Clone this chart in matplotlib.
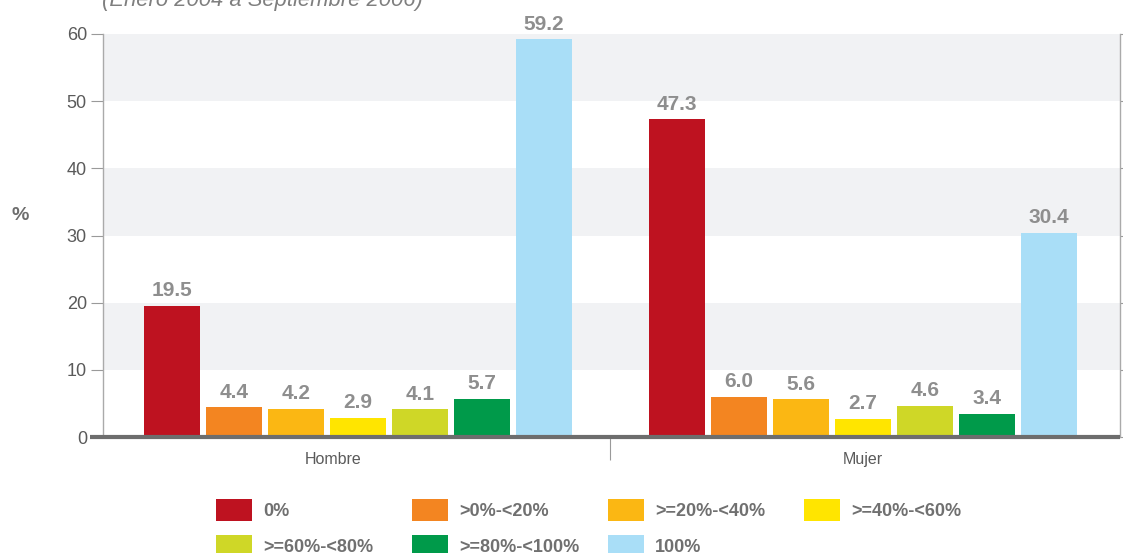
import matplotlib
matplotlib.use('Agg')
import matplotlib.pyplot as plt
from matplotlib.patches import Rectangle
from matplotlib.lines import Line2D

categories = ['Hombre', 'Mujer']
series_labels = ['0%', '>0%-<20%', '>=20%-<40%', '>=40%-<60%',
                 '>=60%-<80%', '>=80%-<100%', '100%']
hombre = [19.5, 4.4, 4.2, 2.9, 4.1, 5.7, 59.2]
mujer = [47.3, 6.0, 5.6, 2.7, 4.6, 3.4, 30.4]
colors = ['#be1220', '#f38521', '#fbb713', '#ffe500', '#cfd727', '#009a4a', '#a9def7']
yticks = [0, 10, 20, 30, 40, 50, 60]
subtitle = '(Enero 2004 a Septiembre 2006)'
ylabel = '%'

plt.rcParams['font.family'] = ['Liberation Sans', 'DejaVu Sans']

W, H = 1123, 553
fig = plt.figure(figsize=(W / 100, H / 100), dpi=100)
ax = fig.add_axes([103 / W, 1 - 437 / H, 1017 / W, 403 / H])

# background bands
for lo in (10, 30, 50):
    ax.axhspan(lo, lo + 10, color='#f1f2f4', zorder=0, lw=0)

step = 0.1228
width = 0.111
xs = list(range(len(categories)))
n = len(series_labels)
for j in range(n):
    vals = [hombre[j], mujer[j]]
    pos = [x + (j - (n - 1) / 2) * step for x in xs]
    ax.bar(pos, vals, width=width, color=colors[j], zorder=2, lw=0)
    for p, v in zip(pos, vals):
        ax.annotate(f'{v:.1f}', (p, v), xytext=(0, 7), textcoords='offset points',
                    ha='center', va='baseline', fontsize=15, fontweight='bold',
                    color='#8e8e8e')

ax.set_xlim(-0.505, 1.509)
ax.set_ylim(0, 60)
ax.set_yticks(yticks)
ax.tick_params(axis='y', which='both', left=True, right=True, direction='out',
               length=8.6, width=0.8, color='#9a9a9a', labelsize=13,
               labelcolor='#5a5a5a', pad=3)
ax.tick_params(axis='y', which='major', right=True, labelright=False)
for t in ax.yaxis.get_ticklines()[1::2]:
    t.set_markersize(2)

ax.set_xticks([0.5])
ax.set_xticklabels([''])
ax.tick_params(axis='x', length=16.5, width=0.8, color='#9a9a9a', direction='out')

for x, lab in zip(xs, categories):
    dx = -0.05 if x == 0 else 0.0
    ax.text(x + dx, -3.4, lab, ha='center', va='center', fontsize=11.5,
            color='#5a5a5a', transform=ax.transData, clip_on=False)

for s in ('top', 'bottom'):
    ax.spines[s].set_visible(False)
ax.spines['left'].set_color('#aaaaaa')
ax.spines['right'].set_color('#aaaaaa')
ax.spines['left'].set_linewidth(1.0)
ax.spines['right'].set_linewidth(1.0)

# thick baseline
ax.add_line(Line2D([-13 / 1017, 1.0], [0, 0], transform=ax.get_yaxis_transform(),
                   color='#6d6d6d', lw=3, clip_on=False, zorder=5,
                   solid_capstyle='butt'))

# y label
fig.text(20 / W, 1 - 215 / H, ylabel, ha='center', va='center', fontsize=14,
         fontweight='bold', color='#6d6d6d')

# subtitle (cut off at top)
fig.text(102 / W, 1 - 6 / H, subtitle, ha='left', va='baseline', fontsize=15.8,
         style='italic', color='#7f7f7f')

# legend
lx0, ly0 = 216, 499
colstep, rowstep = 196, 36
for i, (lab, c) in enumerate(zip(series_labels, colors)):
    r, k = divmod(i, 4)
    x = lx0 + k * colstep
    y = ly0 + r * rowstep
    fig.patches.append(Rectangle((x / W, 1 - (y + 22) / H), 36 / W, 22 / H,
                                 transform=fig.transFigure, color=c, lw=0))
    fig.text((x + 47) / W, 1 - (y + 13) / H, lab, ha='left', va='center',
             fontsize=13, fontweight='bold', color='#707070')

fig.savefig('out.png', dpi=100)
